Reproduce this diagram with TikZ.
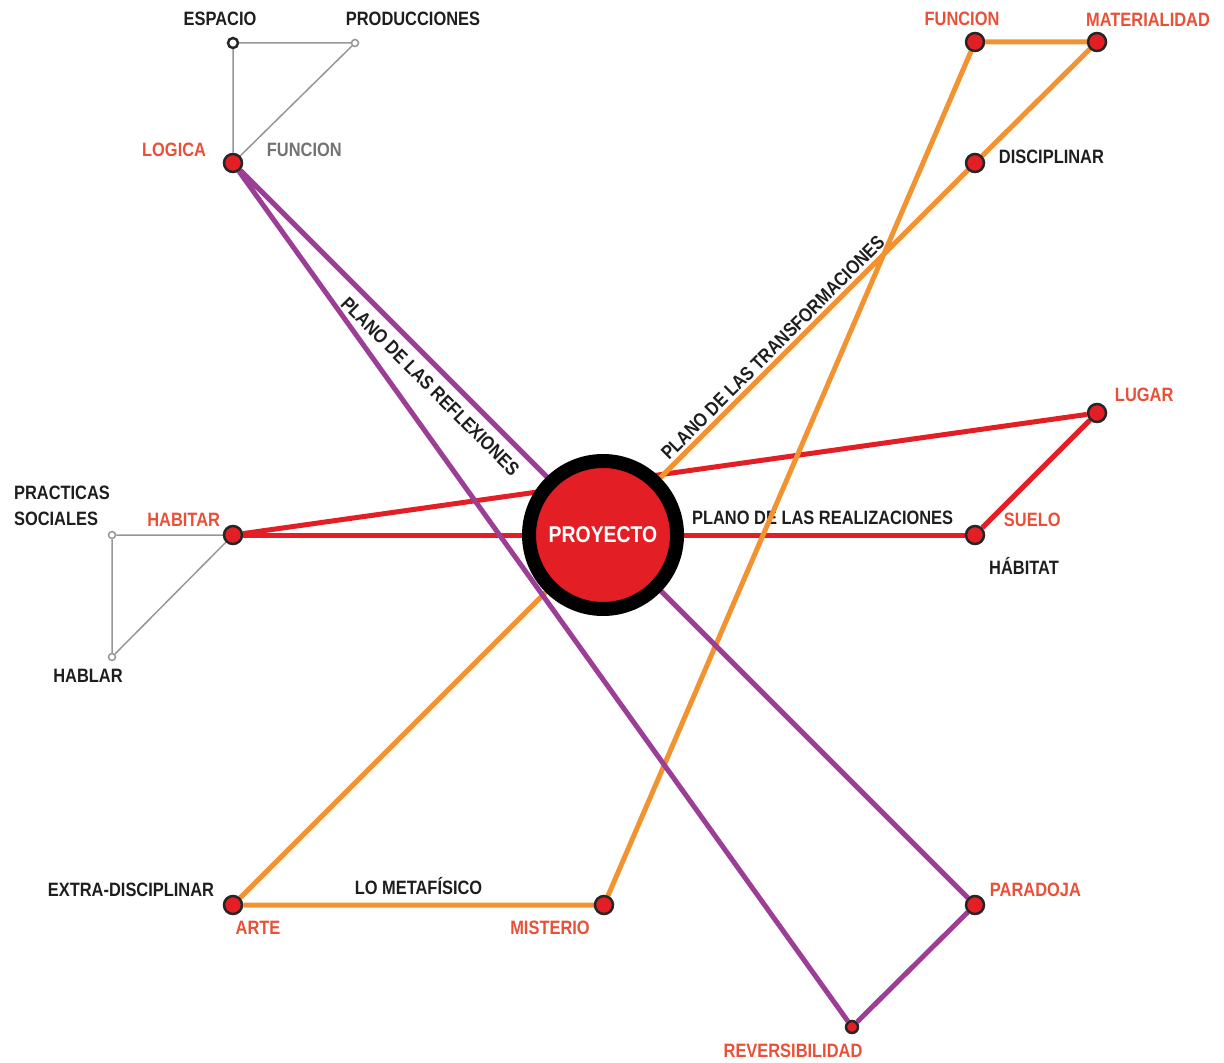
\documentclass[tikz,border=0pt]{standalone}
\usepackage{fontspec}
\usepackage{tikz}
\usetikzlibrary{positioning,backgrounds}
\newfontfamily\condfont[FakeStretch=0.85]{Liberation Sans}
\definecolor{myred}{RGB}{228,30,37}
\definecolor{myorange}{RGB}{242,146,48}
\definecolor{mypurple}{RGB}{157,62,150}
\definecolor{mylabel}{RGB}{232,80,55}
\definecolor{mygray}{RGB}{150,150,150}
\definecolor{myink}{RGB}{30,30,30}
\newcommand{\lblfont}{\condfont\bfseries\fontsize{5.5pt}{7.4pt}\selectfont}

\begin{document}
\begin{tikzpicture}[x=0.1mm,y=-0.1mm,inner sep=0pt,node distance=1mm]
\tikzstyle{dot}=[circle, minimum size=1.8mm, line width=0.25mm, draw=black!85, fill=myred]
\tikzstyle{smalldot}=[dot, minimum size=1.2mm]
\tikzstyle{opendot}=[circle, minimum size=1mm, line width=0.25mm, draw=black!85, fill=white]
\tikzstyle{tinydot}=[circle, minimum size=0.7mm, line width=0.15mm, draw=mygray, fill=white]
\tikzstyle{hub}=[circle, minimum size=14.8mm, line width=1.4mm, draw=black, fill=myred, text=white, font=\condfont\bfseries\fontsize{6.5pt}{7pt}\selectfont]
\tikzstyle{lbl}=[font=\lblfont, text=myink]
\tikzstyle{redlbl}=[lbl, text=mylabel]
\tikzstyle{graylbl}=[lbl, text=black!55]
\tikzstyle{aux}=[line width=0.15mm, mygray]
\tikzstyle{planred}=[line width=0.5mm, myred]
\tikzstyle{planorange}=[line width=0.5mm, myorange]
\tikzstyle{planpurple}=[line width=0.5mm, mypurple]
\useasboundingbox (0,0) rectangle (1224,1062);
% points
\node[hub] (proyecto) at (603,535) {PROYECTO};
\node[dot] (logica) at (233,163) {};
\node[opendot] (espacio) at (233,43) {};
\node[tinydot] (producciones) at (355,43) {};
\node[dot] (funcion) at (975,42) {};
\node[dot] (materialidad) at (1097,42) {};
\node[dot] (disciplinar) at (975,163) {};
\node[dot] (lugar) at (1097,413) {};
\node[dot] (suelo) at (975,535) {};
\node[dot] (habitar) at (233,535) {};
\node[tinydot] (practicas) at (112,535) {};
\node[tinydot] (hablar) at (112,657) {};
\node[dot] (arte) at (233,905) {};
\node[dot] (misterio) at (604,905) {};
\node[dot] (paradoja) at (975,905) {};
\node[smalldot] (reversibilidad) at (852,1027) {};
% labels
\node[lbl, above=1mm of espacio, xshift=-1.3mm] (espacio-l) {ESPACIO};
\node[lbl, above=1.2mm of producciones, xshift=5.8mm] (producciones-l) {PRODUCCIONES};
\node[redlbl, left=1.6mm of logica, yshift=1.3mm] (logica-l) {LOGICA};
\node[graylbl, right=2.3mm of logica, yshift=1.3mm] (funcion-g) {FUNCION};
\node[redlbl, above=0.5mm of funcion, xshift=-1.3mm] (funcion-l) {FUNCION};
\node[redlbl, above=0.5mm of materialidad, xshift=5.1mm] (materialidad-l) {MATERIALIDAD};
\node[lbl, right=1.3mm of disciplinar, yshift=0.6mm] (disciplinar-l) {DISCIPLINAR};
\node[redlbl, right=0.7mm of lugar, yshift=1.8mm] (lugar-l) {LUGAR};
\node[redlbl, right=1.8mm of suelo, yshift=1.5mm] (suelo-l) {SUELO};
\node[lbl, below=1.1mm of suelo, xshift=4.9mm] (habitat-l) {HÁBITAT};
\node[redlbl, left=0.2mm of habitar, yshift=1.5mm] (habitar-l) {HABITAR};
\node[lbl, align=left, above=0.4mm of practicas, xshift=-5mm] (practicas-l) {PRACTICAS\\SOCIALES};
\node[lbl, below=0.7mm of hablar, xshift=-2.4mm] (hablar-l) {HABLAR};
\node[lbl, left=0.8mm of arte, yshift=1.5mm] (extra-l) {EXTRA-DISCIPLINAR};
\node[redlbl, below=0.5mm of arte, xshift=2.5mm] (arte-l) {ARTE};
\node[redlbl, below=0.5mm of misterio, xshift=-5.4mm] (misterio-l) {MISTERIO};
\node[redlbl, right=0.4mm of paradoja, yshift=1.5mm] (paradoja-l) {PARADOJA};
\node[redlbl, below=0.9mm of reversibilidad, xshift=-5.9mm] (reversibilidad-l) {REVERSIBILIDAD};
% planes
\begin{scope}[on background layer]
\draw[aux] (logica) -- (espacio) -- (producciones) -- (logica);
\draw[aux] (habitar) -- (practicas) -- (hablar) -- (habitar);
\draw[planred] (habitar) -- node[pos=0.803, above=0.8mm, lbl] (realiz) {PLANO DE LAS REALIZACIONES} (suelo);
\draw[planred] (habitar) -- (lugar) -- (suelo);
\draw[planorange] (arte) -- node[pos=0.744, sloped, above=0.3mm, lbl] (transf) {PLANO DE LAS TRANSFORMACIONES} (disciplinar) -- (materialidad) -- (funcion) -- (misterio) -- node[midway, above=0.8mm, lbl] (metaf) {LO METAFÍSICO} (arte);
\draw[planpurple] (logica) -- node[pos=0.279, sloped, below=0.9mm, lbl] (reflex) {PLANO DE LAS REFLEXIONES} (paradoja) -- (reversibilidad) -- (logica);
\end{scope}
\end{tikzpicture}
\end{document}
